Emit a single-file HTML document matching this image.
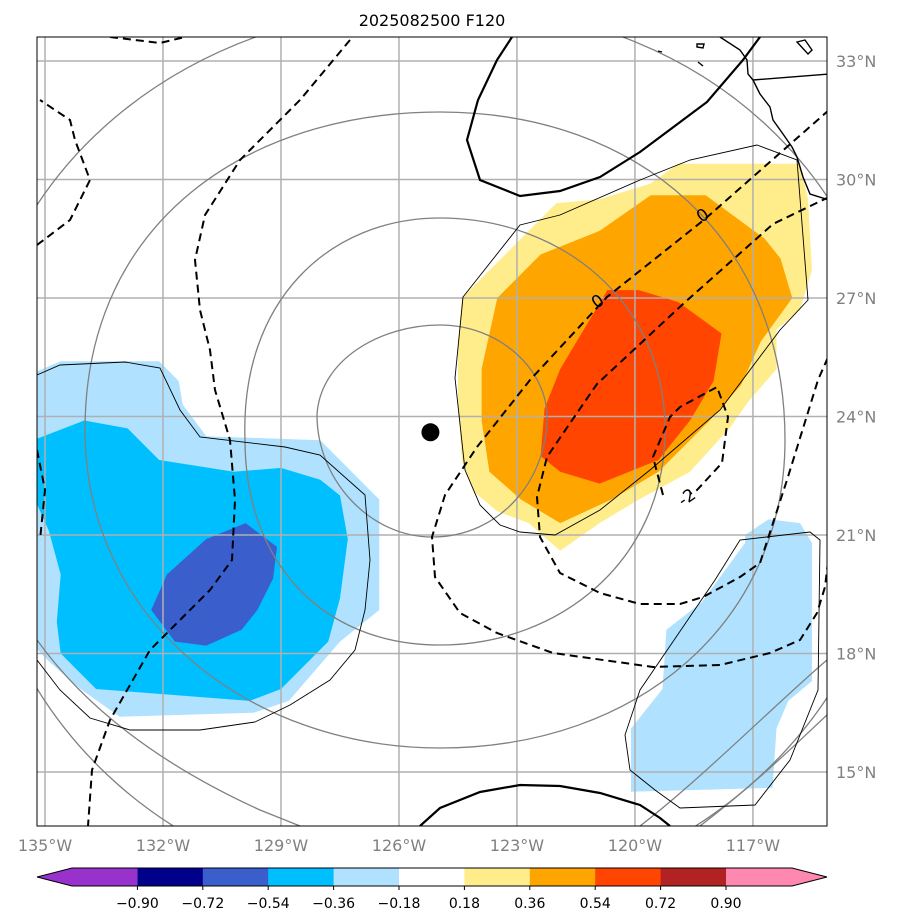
<!DOCTYPE html>
<html><head><meta charset="utf-8"><style>
body{margin:0;background:#fff;}
svg{display:block;font-family:"DejaVu Sans","Liberation Sans",sans-serif;}
</style></head><body>
<svg id="chart" width="897" height="924" viewBox="0 0 897 924" xmlns="http://www.w3.org/2000/svg">
<defs><clipPath id="frameclip"><rect x="37" y="37" width="790" height="789"/></clipPath></defs>
<rect width="897" height="924" fill="#fff"/>
<text x="432" y="26" text-anchor="middle" font-size="16" fill="#000">2025082500 F120</text>
<g id="fills" clip-path="url(#frameclip)"></g>
<g id="grid" clip-path="url(#frameclip)"></g>
<g id="lines" clip-path="url(#frameclip)" fill="none"></g>
<rect x="37" y="37" width="790" height="789" fill="none" stroke="#000" stroke-width="1"/>
<g id="labels"></g>
<g id="colorbar"></g>
</svg>
<script>
// ---- data ----
const lonTicks = [-135,-132,-129,-126,-123,-120,-117];
const latTicks = [15,18,21,24,27,30,33];
const cbLevels = [-0.90,-0.72,-0.54,-0.36,-0.18,0.18,0.36,0.54,0.72,0.90];
const cbColors = ["#9932cc","#00008b","#3a5fcd","#00bfff","#b0e2ff","#ffffff","#ffec8b","#ffa500","#ff4500","#b22222","#ff88b0"];
const fieldYellowLevel = [[-124.4,27.0],[-122.9,28.5],[-122.0,29.4],[-120.9,29.5],[-119.6,29.9],[-118.9,30.4],[-115.8,30.4],[-115.6,29.5],[-115.5,27.7],[-115.8,26.7],[-116.4,26.2],[-116.4,25.2],[-117.1,24.4],[-117.6,23.7],[-118.6,22.6],[-119.9,21.9],[-120.9,21.3],[-121.9,20.6],[-122.7,21.3],[-123.5,21.6],[-124.1,22.1],[-124.4,22.9],[-124.5,24.4],[-124.5,25.9]];
const fieldOrangeLevel = [[-123.5,27.0],[-122.4,28.1],[-120.9,28.7],[-119.6,29.6],[-118.2,29.6],[-116.7,28.5],[-116.3,28.0],[-116.0,27.0],[-116.8,25.9],[-117.3,24.8],[-118.1,23.9],[-119.4,22.6],[-120.6,21.9],[-121.9,21.3],[-122.9,21.9],[-123.7,22.6],[-123.9,23.9],[-123.9,25.2]];
const fieldRedLevel = [[-121.3,26.2],[-120.7,27.2],[-119.9,27.2],[-118.9,26.9],[-117.8,26.1],[-118.0,24.9],[-118.6,23.9],[-119.4,22.9],[-120.9,22.3],[-121.9,22.6],[-122.4,23.0],[-122.3,24.2],[-121.9,25.2]];
const fieldLightBlueW = [[-135.3,25.1],[-134.6,25.4],[-132.1,25.4],[-131.6,24.9],[-131.5,24.3],[-130.9,23.5],[-128.0,23.4],[-126.5,21.9],[-126.5,19.1],[-127.5,18.3],[-128.8,16.8],[-129.7,16.5],[-133.1,16.4],[-134.1,17.1],[-134.9,17.8],[-135.3,18.2]];
const fieldSkyBlueW = [[-135.3,23.4],[-134.0,23.9],[-132.9,23.7],[-132.1,22.9],[-130.2,22.6],[-129.0,22.7],[-128.0,22.4],[-127.5,22.0],[-127.3,20.9],[-127.5,19.4],[-127.8,18.3],[-129.0,17.1],[-129.8,16.8],[-133.7,17.1],[-134.6,18.0],[-134.7,18.8],[-134.6,20.0],[-134.9,21.1],[-135.3,22.0]];
const fieldRoyalBlueW = [[-131.9,20.0],[-130.9,20.9],[-129.9,21.3],[-129.1,20.7],[-129.2,19.9],[-129.6,19.1],[-130.0,18.6],[-130.9,18.2],[-131.7,18.3],[-132.3,19.1]];
const fieldLightBlueSE = [[-117.2,21.0],[-116.6,21.4],[-115.8,21.3],[-115.5,20.8],[-115.5,17.3],[-116.1,16.8],[-116.4,16.1],[-116.5,14.6],[-120.1,14.5],[-120.1,16.1],[-119.3,17.1],[-119.2,18.6],[-118.3,19.3],[-117.2,20.8]];
const centerMarker = [-125.2,23.6];

// ---- projection ----
function X(lon){return 45+(lon+135)*39.33;}
function Y(lat){return 772-(lat-15)*39.5;}
const NS="http://www.w3.org/2000/svg";
function mk(tag,attrs,parent){const e=document.createElementNS(NS,tag);for(const k in attrs)e.setAttribute(k,attrs[k]);parent.appendChild(e);return e;}
function poly(pts){return pts.map(p=>X(p[0]).toFixed(1)+","+Y(p[1]).toFixed(1)).join(" ");}

const fills=document.getElementById('fills');
[[fieldLightBlueW,cbColors[4],'light-blue-area-west'],[fieldSkyBlueW,cbColors[3],'sky-blue-area-west'],[fieldRoyalBlueW,cbColors[2],'royal-blue-area-west'],
 [fieldLightBlueSE,cbColors[4],'light-blue-area-southeast'],[fieldYellowLevel,cbColors[6],'yellow-area'],[fieldOrangeLevel,cbColors[7],'orange-area'],[fieldRedLevel,cbColors[8],'red-area']].forEach(f=>{
  const p=mk('polygon',{points:poly(f[0]),fill:f[1]},fills);
  
  
});

const grid=document.getElementById('grid');
const labels=document.getElementById('labels');
lonTicks.forEach(l=>{
  const g=mk('line',{x1:X(l),x2:X(l),y1:37,y2:826,stroke:'#b0b0b0','stroke-width':1.5},grid);
  
  
  const t=mk('text',{x:X(l),y:851,'text-anchor':'middle','font-size':16,fill:'#808080'},labels);
  t.textContent=Math.abs(l)+"°W";
  
  
});
latTicks.forEach(l=>{
  const g=mk('line',{x1:37,x2:827,y1:Y(l),y2:Y(l),stroke:'#b0b0b0','stroke-width':1.5},grid);
  
  
  const t=mk('text',{x:836,y:Y(l)+6,'font-size':16,fill:'#808080'},labels);
  t.textContent=l+"°N";
  
  
});

const lines=document.getElementById('lines');
// gray contours
[["M317,415 C320,360 380,325 440,325 C500,325 547,370 547,417 C547,480 500,537 432,537 C370,537 317,480 317,415Z"],
 ["M245,440 C240,300 330,218 440,218 C560,218 665,300 665,430 C665,560 560,645 440,645 C320,645 245,560 245,440Z"],
 ["M85,430 C85,220 250,112 440,112 C640,112 785,240 785,440 C785,620 640,748 440,748 C250,748 85,620 85,430Z"],
 ["M-30,440 C-30,160 200,5 440,5 C700,5 900,180 900,450 C900,720 680,900 440,900 C180,900 -30,720 -30,440Z"],
 ["M37,640 C80,700 150,760 260,810 L300,826"],["M640,826 C700,780 780,700 827,660"],["M700,826 C760,780 800,740 827,715"]
].forEach(d=>{
  const p=mk('path',{d:d[0],stroke:'#808080','stroke-width':1.3},lines);
  
  
});
// thin black outlines
["M455,378 L463,297 L520,225 L560,215 L640,180 L690,160 L757,145 L797,160 L808,300 L780,330 L720,410 L650,470 L600,510 L555,535 L520,532 L500,525 L480,505 L465,470Z",
 "M37,375 L60,365 L125,362 L160,368 L180,410 L200,437 L285,447 L320,455 L365,495 L370,560 L365,610 L355,650 L330,680 L290,705 L255,722 L200,730 L130,730 L90,718 L60,690 L37,660",
 "M680,808 L755,805 L790,760 L818,690 L820,540 L810,532 L740,540 L715,580 L640,690 L625,735 L630,770 L655,790Z"
].forEach(d=>{
  const p=mk('path',{d:d,stroke:'#000','stroke-width':0.9},lines);
  
  
});
// dashed contours
["M350,40 L300,100 L240,160 L205,215 L195,260 L200,310 L210,350 L215,390 L230,440 L235,500 L232,560 L210,590 L150,650 L110,720 L92,770 L88,826",
 "M37,245 L70,220 L90,180 L75,140 L70,120 L40,100",
 "M110,37 L160,43 L185,37",
 "M829,110 L705,219 L607,297 L530,380 L477,447 L445,495 L432,537 L435,577 L460,613 L497,633 L553,653 L653,667 L720,665 L770,653 L800,640 L817,613 L825,587 L829,553",
 "M829,197 L773,224 L683,304 L597,384 L577,413 L547,457 L537,497 L540,537 L560,573 L600,593 L640,604 L680,604 L703,597 L740,577 L760,563 L787,480 L818,380 L829,355",
 "M663,495 L653,457 L670,417 L680,407 L717,387 L728,417 L722,463 L697,490 L690,494",
 "M37,450 L45,490 L40,540"
].forEach(d=>{
  const p=mk('path',{d:d,stroke:'#000','stroke-width':2,'stroke-dasharray':'8,5'},lines);
  
  
});
// thick solid contours
["M512,37 L497,60 L478,100 L467,140 L480,180 L520,196 L560,191 L600,177 L640,152 L707,102 L743,60 L760,37",
 "M420,826 L440,808 L480,792 L520,785 L560,786 L600,793 L640,805 L660,818 L670,826"].forEach(d=>{
  const p=mk('path',{d:d,stroke:'#000','stroke-width':2.2},lines);
  
  
});
// coastline & border
["M720,37 L740,50 L747,60 L748,74 L753,80 L760,94 L770,107 L773,120 L783,134 L792,147 L797,157 L803,177 L810,194 L829,200",
 "M753,80 L829,74","M797,42 L805,40 L812,50 L808,54 Z","M697,44 L704,44 L703,48 L697,47Z","M698,62 L703,66","M658,51 L662,52"].forEach(d=>{
  const p=mk('path',{d:d,stroke:'#000','stroke-width':1.4},lines);
  
  
});
// contour labels
[[601,306,"0"],[706,220,"0"],[690,502,"-2"]].forEach(l=>{
  const t=mk('text',{x:l[0],y:l[1],'font-size':17,'text-anchor':'middle',fill:'#000',transform:`rotate(-35 ${l[0]} ${l[1]})`},lines);
  t.textContent=l[2];
  
  
});
const dot=mk('circle',{cx:X(centerMarker[0]),cy:Y(centerMarker[1]),r:9,fill:'#000'},lines);



// colorbar
const cb=document.getElementById('colorbar');
const cbX0=72, cbW=65.4, cbY=868, cbH=18;
function CX(i){return cbX0+i*cbW;}
const n=cbColors.length;
for(let i=0;i<n;i++){
  let el;
  if(i===0){el=mk('polygon',{points:`${CX(1)},${cbY} ${CX(1)},${cbY+cbH} 72,${cbY+cbH} 37,${cbY+cbH/2} 72,${cbY}`,fill:cbColors[i]},cb);}
  else if(i===n-1){el=mk('polygon',{points:`${CX(i)},${cbY} ${CX(i)+66},${cbY} 827,${cbY+cbH/2} ${CX(i)+66},${cbY+cbH} ${CX(i)},${cbY+cbH}`,fill:cbColors[i]},cb);}
  else {el=mk('rect',{x:CX(i),y:cbY,width:cbW+0.5,height:cbH,fill:cbColors[i]},cb);}
  
  
}
const ol=mk('polygon',{points:`72,${cbY} ${CX(n-1)+66},${cbY} 827,${cbY+cbH/2} ${CX(n-1)+66},${cbY+cbH} 72,${cbY+cbH} 37,${cbY+cbH/2}`,fill:'none',stroke:'#000','stroke-width':1},cb);


cbLevels.forEach((v,i)=>{
  const x=CX(i+1);
  const tk=mk('line',{x1:x,x2:x,y1:cbY+cbH,y2:cbY+cbH+4,stroke:'#000'},cb);
  
  
  const t=mk('text',{x:x,y:908,'text-anchor':'middle','font-size':14,fill:'#000'},cb);
  t.textContent=(v<0?"−":"")+Math.abs(v).toFixed(2);
  
  
});
</script>
</body></html>
